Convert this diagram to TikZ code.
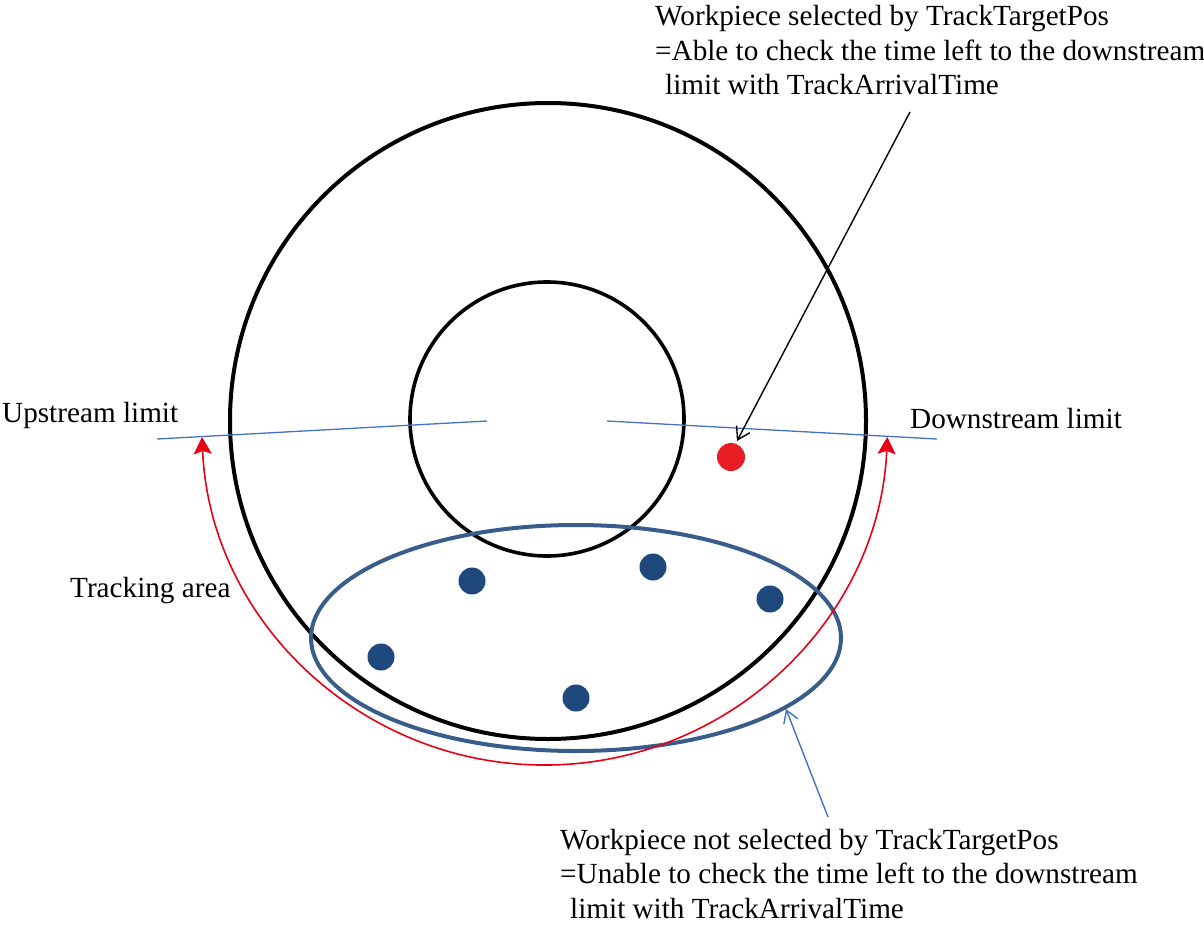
\documentclass[tikz,border=0pt]{standalone}
\usepackage{fontspec}
\setmainfont{Liberation Serif}
\usetikzlibrary{arrows.meta}
\definecolor{limblue}{RGB}{68,114,196}
\definecolor{ellblue}{RGB}{56,93,138}
\definecolor{dotblue}{RGB}{31,73,125}
\definecolor{arcred}{RGB}{232,0,20}
\definecolor{dotred}{RGB}{232,28,36}
\begin{document}
\begin{tikzpicture}[x=1pt,y=-1pt,
  lbl/.style={anchor=base west, inner sep=0pt, font=\fontsize{29.2}{34.5}\selectfont, align=left},
  ring/.style={draw=black, line width=4pt},
  limit/.style={draw=limblue, line width=1.3pt},
  wpblue/.style={fill=dotblue, draw=none},
  wpred/.style={fill=dotred, draw=none},
  redarc/.style={draw=arcred, line width=1.6pt, {Stealth[length=17pt,width=18pt,inset=3pt]}-{Stealth[length=17pt,width=18pt,inset=3pt]}},
  callout/.style={line width=1.4pt, -{Straight Barb[length=12pt,width=15pt]}}
]
\useasboundingbox (0,0) rectangle (1204,928);

% rings
\draw[ring] (548,421) circle[radius=318];
\draw[ring, line width=3.6pt] (547,419) circle[radius=137];

% limit lines
\coordinate (ul1) at (157,439);
\coordinate (ul2) at (487,421);
\coordinate (dl1) at (607,421);
\coordinate (dl2) at (937,439);
\draw[limit] (ul1) -- (ul2);
\draw[limit] (dl1) -- (dl2);

% tracking area ellipse
\draw[draw=ellblue, line width=4pt] (576,638) ellipse[x radius=265, y radius=113];

% red arc
\coordinate (arcL) at (202,437);
\draw[redarc] (arcL) arc[start angle=177.5, end angle=2.5, radius=343];

% workpieces
\fill[wpblue] (472,581) circle[radius=13.5];
\fill[wpblue] (653,567) circle[radius=13.5];
\fill[wpblue] (770,599) circle[radius=13.5];
\fill[wpblue] (381,657) circle[radius=13.5];
\fill[wpblue] (576,698) circle[radius=13.5];
\fill[wpred] (731,457) circle[radius=14];

% callouts
\coordinate (topsrc) at (910,112);
\coordinate (toptip) at (737,441);
\draw[callout, draw=black] (topsrc) -- (toptip);
\coordinate (botsrc) at (828,817);
\coordinate (bottip) at (786,709);
\draw[callout, draw=limblue] (botsrc) -- (bottip);

% labels
\node[lbl] (up) at (2,422) {Upstream limit};
\node[lbl] (down) at (910,428) {Downstream limit};
\node[lbl] (track) at (70,597) {Tracking area};
\node[lbl] (toptext) at (655,95) {Workpiece selected by TrackTargetPos\\=Able to check the time left to the downstream\\\hspace*{10pt}limit with TrackArrivalTime};
\node[lbl] (bottext) at (560,918) {Workpiece not selected by TrackTargetPos\\=Unable to check the time left to the downstream\\\hspace*{10pt}limit with TrackArrivalTime};
\end{tikzpicture}
\end{document}
